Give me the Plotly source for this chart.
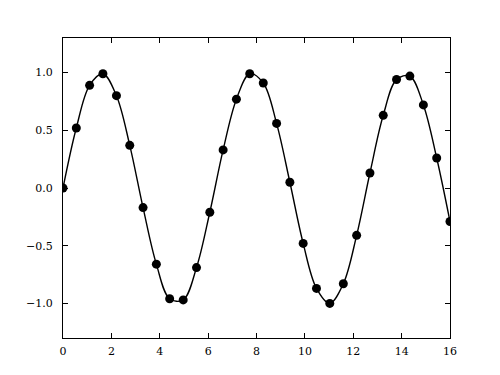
import plotly.graph_objects as go

x_vals = [0.0, 0.55, 1.1, 1.65, 2.21, 2.76, 3.31, 3.86, 4.41, 4.97, 5.52, 6.07,
          6.62, 7.17, 7.72, 8.28, 8.83, 9.38, 9.93, 10.48, 11.03, 11.59, 12.14,
          12.69, 13.24, 13.79, 14.34, 14.9, 15.45, 16.0]
y_vals = [0.0, 0.52, 0.89, 0.99, 0.80, 0.37, -0.17, -0.66, -0.96, -0.97, -0.69, -0.21,
          0.33, 0.77, 0.99, 0.91, 0.56, 0.05, -0.48, -0.87, -1.0, -0.83, -0.41,
          0.13, 0.63, 0.94, 0.97, 0.72, 0.26, -0.29]
x_ticks = [0, 2, 4, 6, 8, 10, 12, 14, 16]
y_ticks = [-1.0, -0.5, 0.0, 0.5, 1.0]

fig = go.Figure()
fig.add_trace(go.Scatter(x=x_vals, y=y_vals, mode="lines",
                         line=dict(color="black", width=1.4, shape="spline", smoothing=1.0),
                         hoverinfo="skip"))
fig.add_trace(go.Scatter(x=x_vals, y=y_vals, mode="markers",
                         marker=dict(color="black", size=9), cliponaxis=True))

axis_common = dict(showline=True, linecolor="black", linewidth=1.2, mirror="allticks",
                   ticks="inside", ticklen=5, tickcolor="black", tickwidth=1,
                   showgrid=False, zeroline=False,
                   tickfont=dict(family="DejaVu Serif, Liberation Serif, serif", size=11, color="black"))
fig.update_xaxes(range=[0, 16], tickvals=x_ticks, ticktext=[str(v) for v in x_ticks],
                 ticklabelstandoff=3, **axis_common)
fig.update_yaxes(range=[-1.3, 1.3], tickvals=y_ticks, tickformat=".1f",
                 ticklabelstandoff=7, **axis_common)
fig.update_layout(width=500, height=375, showlegend=False,
                  margin=dict(l=63, r=50, t=38, b=37),
                  paper_bgcolor="white", plot_bgcolor="white")
fig.write_html("out.html")
